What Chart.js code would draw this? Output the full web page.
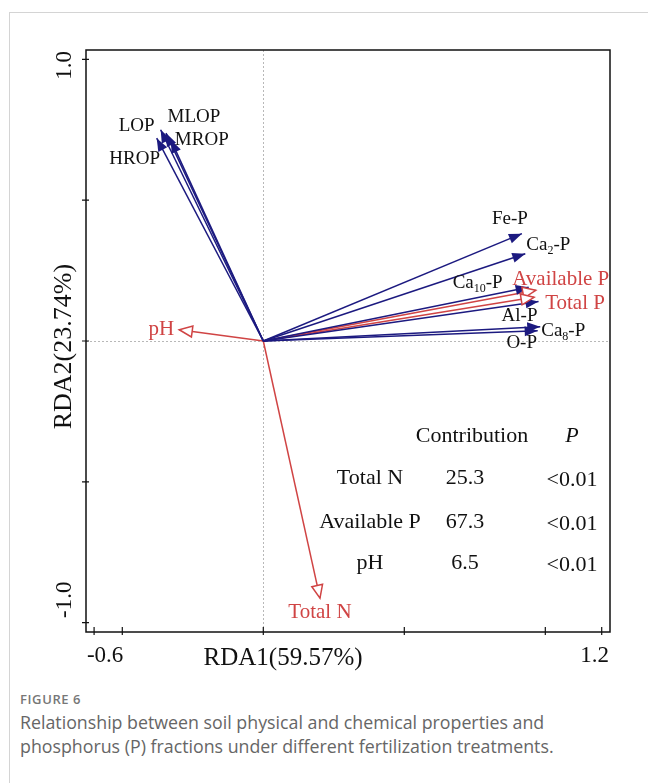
<!DOCTYPE html>
<html>
<head>
<meta charset="utf-8">
<script src="https://cdn.jsdelivr.net/npm/chart.js@4.4.1/dist/chart.umd.min.js"></script>
<style>
    body { margin: 0; background: #fff; width: 648px; height: 783px; overflow: hidden; position: relative; }
    #frame { position: absolute; left: 9px; top: 12px; width: 700px; height: 800px; border-top: 1px solid #d4d4d4; border-left: 1px solid #d4d4d4; }
    #chartBox { position: absolute; left: 0; top: 0; width: 648px; height: 680px; }
    #caption { position: absolute; left: 20px; top: 690px; width: 620px; font-family: "Open Sans", Lato, sans-serif; color: #666; }
    #caption .fig { font-size: 13px; font-weight: 600; letter-spacing: 0.6px; color: #777; margin-bottom: 2px; }
    #caption .txt { font-size: 17.8px; line-height: 24px; white-space: nowrap; }
</style>
</head>
<body>
<div id="frame"></div>
<div id="chartBox"><canvas id="rdaChart" width="648" height="680"></canvas></div>
<div id="caption">
    <div class="fig">FIGURE 6</div>
    <div class="txt">Relationship between soil physical and chemical properties and<br>phosphorus (P) fractions under different fertilization treatments.</div>
</div>
<script>
// P fractions (response variables), arrow end points
const fractionNames = ["LOP", "MLOP", "MROP", "HROP", "Fe-P", "Ca2-P", "Ca10-P", "Al-P", "Ca8-P", "O-P"];
const fractionRDA1 = [-0.364, -0.345, -0.328, -0.378, 0.917, 0.929, 0.941, 0.976, 0.982, 0.973];
const fractionRDA2 = [0.750, 0.738, 0.714, 0.720, 0.381, 0.310, 0.191, 0.140, 0.051, 0.036];

// soil properties (explanatory variables)
const factorNames = ["Available P", "Total P", "pH", "Total N"];
const factorRDA1 = [0.966, 0.960, -0.298, 0.201];
const factorRDA2 = [0.180, 0.155, 0.040, -0.913];

const xTicks = [-0.6, -0.5, 0, 0.5, 1.0, 1.2];
const xTickLabels = ["-0.6", "", "", "", "", "1.2"];
const yTicks = [-1.0, -0.5, 0, 0.5, 1.0];
const yTickLabels = ["-1.0", "", "", "", "1.0"];

const tableHeader = ["Contribution", "P"];
const tableFactors = ["Total N", "Available P", "pH"];
const tableContribution = ["25.3", "67.3", "6.5"];
const tablePValues = ["<0.01", "<0.01", "<0.01"];

const BLUE = "#1c1a80";
const RED = "#d04444";
const SERIF = "'Liberation Serif', 'Times New Roman', serif";

// where each label sits relative to its arrow tip (px)
const labelOffsets = {
    "LOP": [-24, -4], "MLOP": [28, -16], "MROP": [31, 0], "HROP": [-22, 21],
    "Fe-P": [-12, -15], "Ca2-P": [23, -9], "Ca10-P": [-51, -4], "Al-P": [-19, 14],
    "Ca8-P": [23, 4], "O-P": [-16, 12],
    "Available P": [25, -11], "Total P": [41, 6], "pH": [-18, 0], "Total N": [0, 14]
};

function arrowDataset(name, x, y, color, open) {
    return {
        label: name,
        data: [{ x: 0, y: 0 }, { x: x, y: y }],
        showLine: true,
        borderColor: color,
        borderWidth: 1.5,
        pointRadius: 0,
        openHead: open
    };
}

const datasets = [];
fractionNames.forEach((n, i) => datasets.push(arrowDataset(n, fractionRDA1[i], fractionRDA2[i], BLUE, false)));
factorNames.forEach((n, i) => datasets.push(arrowDataset(n, factorRDA1[i], factorRDA2[i], RED, true)));

function drawRich(ctx, name, cx, cy, size, color) {
    // Ca2-P style names get a subscript number
    const m = name.match(/^Ca(\d+)-P$/);
    const parts = m ? [["Ca", false], [m[1], true], ["-P", false]] : [[name, false]];
    const subSize = Math.round(size * 0.62);
    let total = 0;
    parts.forEach(p => {
        ctx.font = (p[1] ? subSize : size) + "px " + SERIF;
        total += ctx.measureText(p[0]).width;
    });
    let x = cx - total / 2;
    ctx.fillStyle = color;
    ctx.textAlign = "left";
    ctx.textBaseline = "middle";
    parts.forEach(p => {
        ctx.font = (p[1] ? subSize : size) + "px " + SERIF;
        ctx.fillText(p[0], x, cy + (p[1] ? 6 : 0));
        x += ctx.measureText(p[0]).width;
    });
}

const rdaPlugin = {
    id: "rdaPlugin",
    beforeDatasetsDraw(chart) {
        const { ctx, chartArea: a, scales: { x, y } } = chart;
        ctx.save();
        ctx.strokeStyle = "#b8b8b8";
        ctx.lineWidth = 1;
        ctx.setLineDash([2, 2]);
        const x0 = Math.round(x.getPixelForValue(0)) + 0.5;
        const y0 = Math.round(y.getPixelForValue(0)) + 0.5;
        ctx.beginPath();
        ctx.moveTo(x0, a.top); ctx.lineTo(x0, a.bottom);
        ctx.moveTo(a.left, y0); ctx.lineTo(a.right, y0);
        ctx.stroke();
        ctx.restore();
    },
    afterDatasetsDraw(chart) {
        const { ctx, chartArea: a, scales: { x, y } } = chart;
        ctx.save();

        // arrow heads and labels
        chart.data.datasets.forEach((ds, i) => {
            const pts = chart.getDatasetMeta(i).data;
            const tip = pts[1], base = pts[0];
            const ang = Math.atan2(tip.y - base.y, tip.x - base.x);
            const len = 13, half = ds.openHead ? 5.5 : 5;
            ctx.save();
            ctx.translate(tip.x, tip.y);
            ctx.rotate(ang);
            ctx.beginPath();
            ctx.moveTo(0, 0);
            ctx.lineTo(-len, -half);
            ctx.lineTo(-len, half);
            ctx.closePath();
            if (ds.openHead) {
                ctx.fillStyle = "#fff";
                ctx.fill();
                ctx.strokeStyle = ds.borderColor;
                ctx.lineWidth = 1.5;
                ctx.stroke();
            } else {
                ctx.fillStyle = ds.borderColor;
                ctx.fill();
            }
            ctx.restore();

            const off = labelOffsets[ds.label] || [0, 0];
            drawRich(ctx, ds.label, tip.x + off[0], tip.y + off[1], ds.openHead ? 21 : 19, ds.openHead ? RED : "#111");
        });

        // plot box
        ctx.strokeStyle = "#111";
        ctx.lineWidth = 1.5;
        ctx.setLineDash([]);
        ctx.strokeRect(a.left, a.top, a.right - a.left, a.bottom - a.top);

        // tick marks crossing the axes
        ctx.lineWidth = 1.2;
        ctx.beginPath();
        xTicks.forEach(v => {
            const px = x.getPixelForValue(v);
            ctx.moveTo(px, a.bottom - 5); ctx.lineTo(px, a.bottom + 3);
        });
        yTicks.forEach(v => {
            const py = y.getPixelForValue(v);
            ctx.moveTo(a.left - 4, py); ctx.lineTo(a.left + 3, py);
        });
        ctx.stroke();

        // tick labels
        ctx.fillStyle = "#111";
        ctx.font = "23px " + SERIF;
        ctx.textBaseline = "middle";
        ctx.textAlign = "center";
        xTicks.forEach((v, i) => {
            if (!xTickLabels[i]) return;
            const shift = v < 0 ? 11 : -7;
            ctx.fillText(xTickLabels[i], x.getPixelForValue(v) + shift, a.bottom + 24);
        });
        yTicks.forEach((v, i) => {
            if (!yTickLabels[i]) return;
            const shift = v > 0 ? 6 : -23;
            ctx.save();
            ctx.translate(a.left - 21, y.getPixelForValue(v) + shift);
            ctx.rotate(-Math.PI / 2);
            ctx.fillText(yTickLabels[i], 0, 0);
            ctx.restore();
        });

        // axis titles
        ctx.font = "25px " + SERIF;
        ctx.fillText("RDA1(59.57%)", x.getPixelForValue(0.07), a.bottom + 26);
        ctx.save();
        ctx.font = "26px " + SERIF;
        ctx.translate(a.left - 22, y.getPixelForValue(-0.02));
        ctx.rotate(-Math.PI / 2);
        ctx.fillText("RDA2(23.74%)", 0, 0);
        ctx.restore();

        // contribution table
        ctx.font = "22px " + SERIF;
        ctx.fillText(tableHeader[0], 472, 436);
        ctx.font = "italic 22px " + SERIF;
        ctx.fillText(tableHeader[1], 572, 436);
        ctx.font = "22px " + SERIF;
        const rowY = [478, 522, 563];
        tableFactors.forEach((f, i) => {
            ctx.fillText(f, 370, rowY[i]);
            ctx.fillText(tableContribution[i], 465, rowY[i]);
            ctx.fillText(tablePValues[i], 572, rowY[i] + 2);
        });
        ctx.restore();
    }
};

new Chart(document.getElementById("rdaChart").getContext("2d"), {
    type: "scatter",
    data: { datasets },
    options: {
        responsive: false,
        animation: false,
        devicePixelRatio: 1,
        layout: { padding: { left: 86, top: 50, right: 38, bottom: 48 } },
        plugins: { legend: { display: false }, tooltip: { enabled: false } },
        scales: {
            x: {
                type: "linear", min: -0.6287, max: 1.2294,
                grid: { display: false, drawTicks: false },
                border: { display: false },
                ticks: { display: false }
            },
            y: {
                type: "linear", min: -1.033, max: 1.033,
                grid: { display: false, drawTicks: false },
                border: { display: false },
                ticks: { display: false }
            }
        }
    },
    plugins: [rdaPlugin]
});
</script>
</body>
</html>
